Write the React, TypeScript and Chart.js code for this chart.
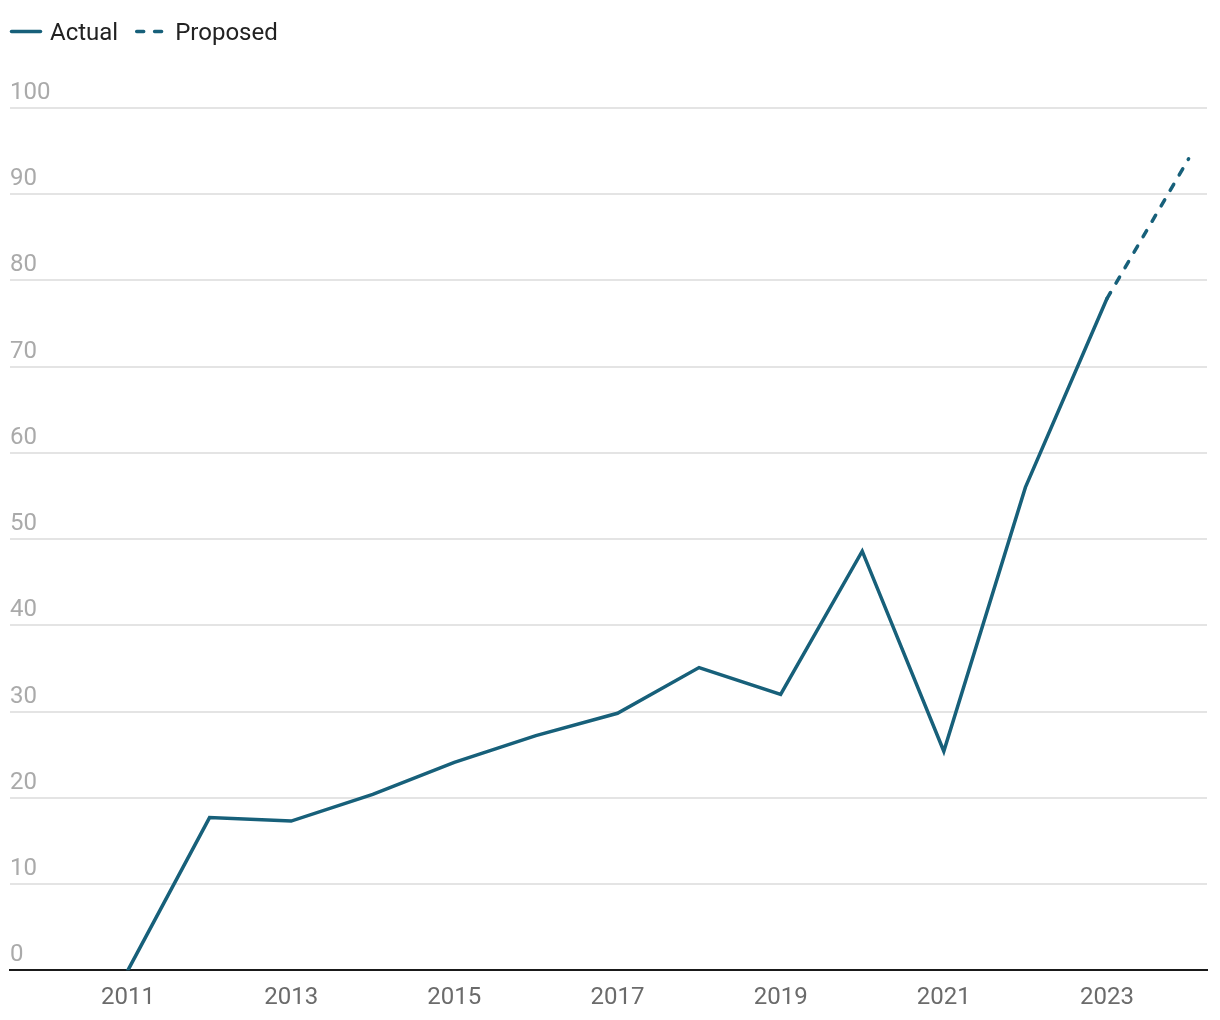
import React, { useEffect, useRef } from "react";
import { Chart, registerables } from "chart.js";

Chart.register(...registerables);

const actualYears = [2011, 2012, 2013, 2014, 2015, 2016, 2017, 2018, 2019, 2020, 2021, 2022, 2023];
const actualValues = [0, 17.7, 17.3, 20.4, 24.1, 27.2, 29.8, 35.1, 32.0, 48.6, 25.4, 56.0, 77.9];
const proposedYears = [2023, 2024];
const proposedValues = [77.9, 94.1];
const xTickYears = [2011, 2013, 2015, 2017, 2019, 2021, 2023];
const yTicks = [0, 10, 20, 30, 40, 50, 60, 70, 80, 90, 100];
const seriesNames = ["Actual", "Proposed"];

const LINE_COLOR = "#17607a";
const FONT = "Roboto, 'Noto Sans', sans-serif";

const legendPlugin = {
  id: "customLegend",
  afterDraw(chart: any) {
    const ctx = chart.ctx;
    ctx.save();
    ctx.font = `24px ${FONT}`;
    ctx.textBaseline = "middle";
    ctx.textAlign = "left";
    const y = 23.5;
    let x = 3.5;
    chart.data.datasets.forEach((ds: any) => {
      ctx.strokeStyle = ds.borderColor;
      ctx.lineWidth = 3.5;
      ctx.lineCap = "round";
      ctx.setLineDash(ds.borderDash || []);
      ctx.beginPath();
      ctx.moveTo(x, y);
      ctx.lineTo(x + 29, y);
      ctx.stroke();
      ctx.setLineDash([]);
      ctx.fillStyle = "#222222";
      const tx = x + 38.5;
      ctx.fillText(ds.label, tx, y + 2);
      x = tx + ctx.measureText(ds.label).width + 18.5;
    });
    ctx.restore();
  },
};

export default function App() {
  const canvasRef = useRef<HTMLCanvasElement | null>(null);

  useEffect(() => {
    if (!canvasRef.current) return;
    const chart = new Chart(canvasRef.current, {
      type: "line",
      data: {
        datasets: [
          {
            label: seriesNames[0],
            data: actualYears.map((yr, i) => ({ x: yr, y: actualValues[i] })),
            borderColor: LINE_COLOR,
            backgroundColor: LINE_COLOR,
            borderWidth: 3.5,
            pointRadius: 0,
            tension: 0,
            borderCapStyle: "round",
          },
          {
            label: seriesNames[1],
            data: proposedYears.map((yr, i) => ({ x: yr, y: proposedValues[i] })),
            borderColor: LINE_COLOR,
            backgroundColor: LINE_COLOR,
            borderWidth: 3.5,
            borderDash: [7, 10.9],
            borderCapStyle: "round",
            pointRadius: 0,
            tension: 0,
          },
        ],
      },
      options: {
        animation: false,
        responsive: true,
        maintainAspectRatio: false,
        layout: { padding: { left: 2, right: 5, top: 100, bottom: -13 } },
        plugins: {
          legend: { display: false },
          tooltip: { enabled: false },
        },
        scales: {
          x: {
            type: "linear",
            min: 2009.554,
            max: 2024.226,
            grid: { display: false, drawTicks: false },
            border: { display: true, color: "#1a1a1a", width: 2 },
            afterBuildTicks: (scale: any) => {
              scale.ticks = xTickYears.map((v) => ({ value: v }));
            },
            ticks: {
              color: "#6b6b6b",
              font: { family: FONT, size: 24 },
              padding: 13,
              maxRotation: 0,
              autoSkip: false,
              callback: (v: any) => String(v),
            },
          },
          y: {
            type: "linear",
            min: 0,
            max: 100,
            afterBuildTicks: (scale: any) => {
              scale.ticks = yTicks.map((v) => ({ value: v }));
            },
            grid: { color: "#e4e4e4", lineWidth: 2, drawTicks: false },
            border: { display: false },
            ticks: {
              mirror: true,
              padding: 0,
              labelOffset: -15,
              color: "#aaaaaa",
              font: { family: FONT, size: 24 },
              callback: (v: any) => String(v),
            },
          },
        },
      },
      plugins: [legendPlugin],
    });
    return () => chart.destroy();
  }, []);

  return (
    <div style={{ width: 1204, height: 1004, position: "relative" }}>
      <canvas ref={canvasRef} />
    </div>
  );
}
